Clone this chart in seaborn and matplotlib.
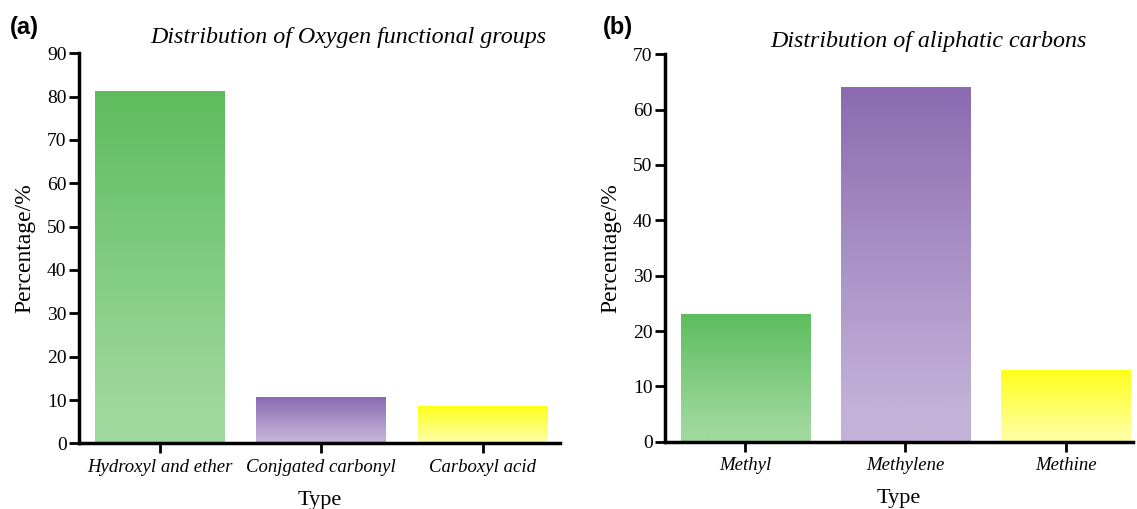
import numpy as np
import pandas as pd
import matplotlib
matplotlib.use("Agg")
import matplotlib.pyplot as plt
from matplotlib.colors import to_rgb
import seaborn as sns

# ---- data ----
oxy_types = ["Hydroxyl and ether", "Conjgated carbonyl", "Carboxyl acid"]
oxy_pct = [81.2, 10.4, 8.4]
ali_types = ["Methyl", "Methylene", "Methine"]
ali_pct = [23.1, 64.1, 13.0]

top_colors = ["#5DBD5E", "#8B6BB1", "#FFFF1A"]
bottom_colors = ["#9FD89D", "#C3B1D8", "#FFFF9E"]

sns.set_theme(style="white")
plt.rcParams["font.family"] = ["Liberation Serif", "DejaVu Serif"]
plt.rcParams["text.color"] = "black"
plt.rcParams["axes.labelcolor"] = "black"
plt.rcParams["xtick.color"] = "black"
plt.rcParams["ytick.color"] = "black"

fig = plt.figure(figsize=(11.37, 5.09), dpi=100)
ax_a = fig.add_axes([0.0695, 0.129, 0.4230, 0.7663])
ax_b = fig.add_axes([0.5849, 0.1322, 0.4116, 0.7611])


def gradient_bars(ax, ymax):
    for i, p in enumerate(ax.patches):
        x0, w, h = p.get_x(), p.get_width(), p.get_height()
        p.set_facecolor("none")
        p.set_edgecolor("none")
        n = 256
        t = np.linspace(0, 1, n)[:, None]  # 0 at top, 1 at bottom
        t = np.clip(t / 0.9, 0, 1)
        c0 = np.array(to_rgb(top_colors[i]))
        c1 = np.array(to_rgb(bottom_colors[i]))
        img = c0[None, None, :] + (c1 - c0)[None, None, :] * t[:, :, None]
        img = np.repeat(img, 2, axis=1)
        ax.imshow(img, extent=[x0, x0 + w, 0, h], aspect="auto",
                  origin="upper", zorder=2, interpolation="bilinear")


def style(ax, ymax, xr, labels, title, tx, ty):
    gradient_bars(ax, ymax)
    ax.set_xlim(-0.5, xr)
    ax.set_ylim(0, ymax)
    ax.set_yticks(np.arange(0, ymax + 1, 10))
    ax.set_xticks(range(len(labels)))
    ax.set_xticklabels(labels, fontstyle="italic", fontsize=13.5, color="black")
    ax.tick_params(axis="y", labelsize=14, length=7, width=2, direction="out",
                   left=True, pad=2, colors="black")
    ax.tick_params(axis="x", length=7, width=2, direction="out",
                   bottom=True, pad=4, colors="black")
    for s in ["top", "right"]:
        ax.spines[s].set_visible(False)
    for s in ["left", "bottom"]:
        ax.spines[s].set_linewidth(2.5)
        ax.spines[s].set_color("black")
    ax.set_xlabel("Type", fontsize=16, labelpad=11, color="black")
    ax.set_ylabel("Percentage/%", fontsize=17, labelpad=8, color="black")
    ax.text(tx, ty, title, transform=ax.transAxes, ha="center", va="center",
            fontsize=17.3, fontstyle="italic", color="black")
    ax.set_facecolor("white")


sns.barplot(x=oxy_types, y=oxy_pct, ax=ax_a, width=0.805, color="white",
            saturation=1, errorbar=None)
sns.barplot(x=ali_types, y=ali_pct, ax=ax_b, width=0.805, color="white",
            saturation=1, errorbar=None)

style(ax_a, 90, 2.48, oxy_types, "Distribution of Oxygen functional groups",
      0.559, 1.04)
style(ax_b, 70, 2.42, ali_types, "Distribution of aliphatic carbons",
      0.562, 1.032)

fig.text(0.009, 0.945, "(a)", fontsize=17, fontweight="bold", color="black",
         family=["Liberation Sans", "DejaVu Sans"], va="center")
fig.text(0.530, 0.945, "(b)", fontsize=17, fontweight="bold", color="black",
         family=["Liberation Sans", "DejaVu Sans"], va="center")

fig.savefig("out.png", dpi=100, facecolor="white")
